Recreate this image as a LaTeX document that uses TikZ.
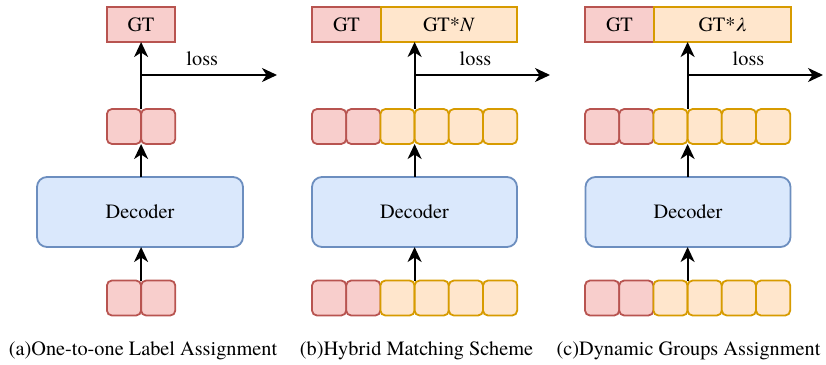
\documentclass[tikz,border=0pt]{standalone}
\usepackage{fontspec}
\setmainfont{TeX Gyre Termes}
\usetikzlibrary{arrows.meta,positioning}
\definecolor{redfill}{HTML}{F8CECC}
\definecolor{redline}{HTML}{B85450}
\definecolor{orafill}{HTML}{FFE6CC}
\definecolor{oraline}{HTML}{D79B00}
\definecolor{bluefill}{HTML}{DAE8FC}
\definecolor{blueline}{HTML}{6C8EBF}
\tikzset{
  every node/.style={font=\fontsize{20.3}{24}\selectfont, inner sep=0pt, outer sep=0pt},
  tokred/.style={draw=redline, fill=redfill, line width=1.8pt, rounded corners=5pt,
    minimum width=34.2pt, minimum height=35pt},
  tokora/.style={draw=oraline, fill=orafill, line width=1.8pt, rounded corners=5pt,
    minimum width=34.2pt, minimum height=35pt},
  gtred/.style={draw=redline, fill=redfill, line width=1.8pt, minimum height=35pt},
  gtora/.style={draw=oraline, fill=orafill, line width=1.8pt, minimum height=35pt},
  decoder/.style={draw=blueline, fill=bluefill, line width=1.8pt, rounded corners=10pt,
    minimum width=205pt, minimum height=70pt},
  flow/.style={line width=2pt, -{Stealth[length=15pt,width=14pt,inset=4.5pt]}},
  caption/.style={anchor=center},
}
\begin{document}
\begin{tikzpicture}[x=1pt,y=-1pt]
\useasboundingbox (0,0) rectangle (826,364);

% ---------- (a) one-to-one ----------
\node[gtred, minimum width=68pt] (a-gt) at (141,24.5) {GT};
\node[tokred] (a-q1) at (124,126.5) {};
\node[tokred, right=0pt of a-q1] (a-q2) {};
\node[decoder, minimum width=206pt] (a-dec) at (140,212) {Decoder};
\node[tokred] (a-i1) at (124,298) {};
\node[tokred, right=0pt of a-i1] (a-i2) {};
\coordinate (a-br) at (a-q1.north east |- 0,75);
\coordinate (a-end) at (277,75);
\draw[flow] (a-q1.north east) -- (a-q1.north east |- a-gt.south);
\draw[flow] (a-br) -- node[above=9pt, pos=0.45] (a-loss) {loss} (a-end);
\draw[flow] (a-dec.north -| a-q1.south east) -- (a-q1.south east);
\draw[flow] (a-i1.north east) -- (a-i1.north east |- a-dec.south);
\node[caption] (a-cap) at (143,351) {(a)One-to-one Label Assignment};

% ---------- (b) hybrid matching ----------
\node[gtred, minimum width=69pt] (b-gt) at (346.5,24.5) {GT};
\node[gtora, minimum width=136pt, anchor=west] (b-gtn) at (b-gt.east) {GT*\textit{N}};
\node[tokred] (b-q1) at (329.1,126.5) {};
\node[tokred, right=0pt of b-q1] (b-q2) {};
\node[tokora, right=0pt of b-q2] (b-q3) {};
\node[tokora, right=0pt of b-q3] (b-q4) {};
\node[tokora, right=0pt of b-q4] (b-q5) {};
\node[tokora, right=0pt of b-q5] (b-q6) {};
\node[decoder] (b-dec) at (414.5,212) {Decoder};
\node[tokred] (b-i1) at (329.1,298) {};
\node[tokred, right=0pt of b-i1] (b-i2) {};
\node[tokora, right=0pt of b-i2] (b-i3) {};
\node[tokora, right=0pt of b-i3] (b-i4) {};
\node[tokora, right=0pt of b-i4] (b-i5) {};
\node[tokora, right=0pt of b-i5] (b-i6) {};
\coordinate (b-br) at (b-q3.north east |- 0,75);
\coordinate (b-end) at (550,75);
\draw[flow] (b-q3.north east) -- (b-q3.north east |- b-gtn.south);
\draw[flow] (b-br) -- node[above=9pt, pos=0.45] (b-loss) {loss} (b-end);
\draw[flow] (b-dec.north -| b-q3.south east) -- (b-q3.south east);
\draw[flow] (b-i3.north east) -- (b-i3.north east |- b-dec.south);
\node[caption] (b-cap) at (416.5,351) {(b)Hybrid Matching Scheme};

% ---------- (c) dynamic groups ----------
\node[gtred, minimum width=69pt] (c-gt) at (619.5,24.5) {GT};
\node[gtora, minimum width=137pt, anchor=west] (c-gtl) at (c-gt.east) {GT*\textit{λ}};
\node[tokred] (c-q1) at (602.1,126.5) {};
\node[tokred, right=0pt of c-q1] (c-q2) {};
\node[tokora, right=0pt of c-q2] (c-q3) {};
\node[tokora, right=0pt of c-q3] (c-q4) {};
\node[tokora, right=0pt of c-q4] (c-q5) {};
\node[tokora, right=0pt of c-q5] (c-q6) {};
\node[decoder] (c-dec) at (688,212) {Decoder};
\node[tokred] (c-i1) at (602.1,298) {};
\node[tokred, right=0pt of c-i1] (c-i2) {};
\node[tokora, right=0pt of c-i2] (c-i3) {};
\node[tokora, right=0pt of c-i3] (c-i4) {};
\node[tokora, right=0pt of c-i4] (c-i5) {};
\node[tokora, right=0pt of c-i5] (c-i6) {};
\coordinate (c-br) at (c-q3.north east |- 0,75);
\coordinate (c-end) at (823,75);
\draw[flow] (c-q3.north east) -- (c-q3.north east |- c-gtl.south);
\draw[flow] (c-br) -- node[above=9pt, pos=0.45] (c-loss) {loss} (c-end);
\draw[flow] (c-dec.north -| c-q3.south east) -- (c-q3.south east);
\draw[flow] (c-i3.north east) -- (c-i3.north east |- c-dec.south);
\node[caption] (c-cap) at (688.5,351) {(c)Dynamic Groups Assignment};
\end{tikzpicture}
\end{document}
